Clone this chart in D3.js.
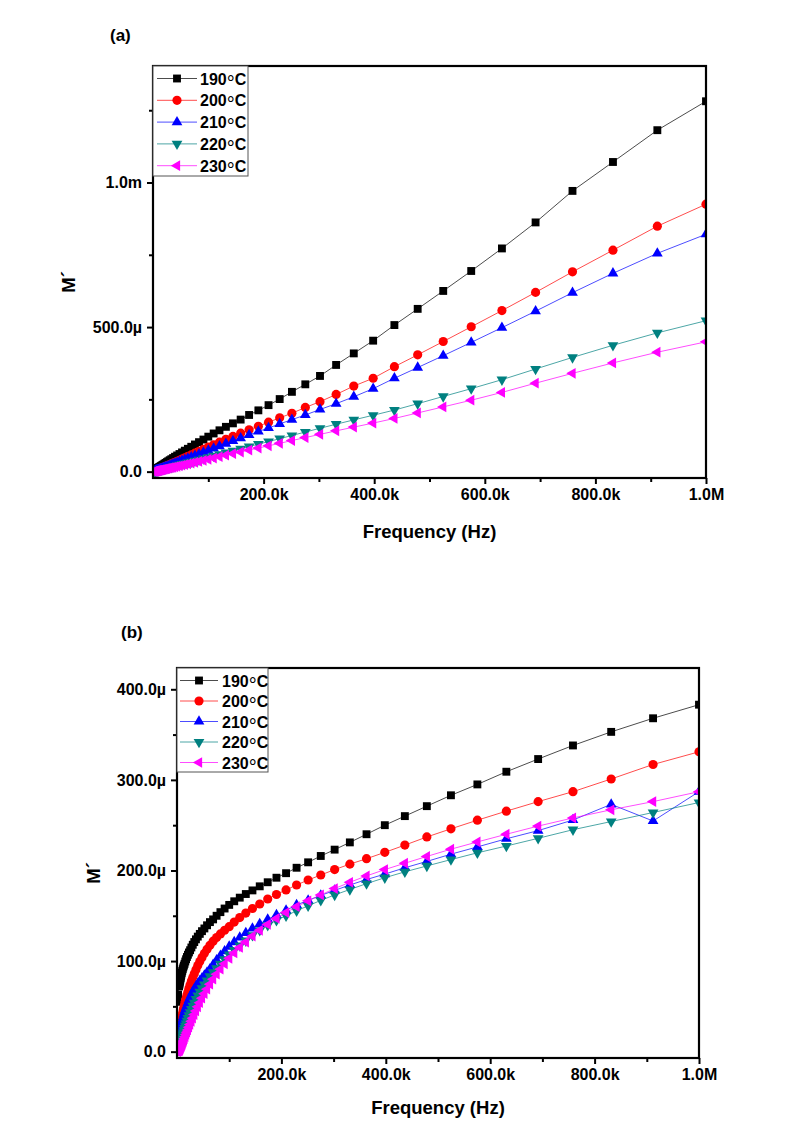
<!DOCTYPE html>
<html><head><meta charset="utf-8">
<script src="https://cdn.jsdelivr.net/npm/d3@7/dist/d3.min.js"></script>
<style>
body{margin:0;background:#fff;}
svg text{font-family:"Liberation Sans",Arial,sans-serif;font-weight:bold;fill:#000;}
</style></head><body>
<svg id="chart" width="806" height="1137"></svg>
<script>
// Frequency points (Hz)
const freq = [1000,2000,3981,4365,4786,5248,5754,6310,6918,7586,8318,9120,
10000,10965,12023,13183,14454,15849,17378,19055,20893,22909,25119,27542,30200,33113,36308,39811,43652,47863,52481,57544,63096,69183,75858,83176,91201,
100000,109648,120226,131826,144544,158489,173780,190546,208930,229087,251189,275423,301995,331131,363078,398107,436516,478630,524807,575440,630957,691831,758578,831764,912011,
1000000];

const seriesNames = ["190°C","200°C","210°C","220°C","230°C"];
const seriesColors = ["#000000","#ff0000","#0000ff","#008080","#ff00ff"];
const seriesSymbols = ["square","circle","up","down","left"];

// Panel (a): M' values in micro units
const a190 = [1.5,2.9,5.6,6.1,6.7,7.3,8.0,8.7,9.5,10.4,11.3,12.4,
13.5,14.7,16.1,17.6,19.2,21,23,25,27.5,30,33,36,39.5,43,47,51.5,56,61,66.5,72.5,79,86,94,102,111,
121,132,143,155,167,180,196,212,230,251,276,302,331,369,409,453,507,563,625,694,772,862,971,1071,1181,
1281];
const a200 = [0.8,1.5,2.9,3.2,3.6,3.9,4.3,4.7,5.2,5.7,6.3,6.9,
7.6,8.3,9.2,10.1,11.1,12.2,13.5,14.9,16.4,18.1,20,22,24.3,26.8,29.5,32.5,36,39.5,43.5,48,53,58,64,70.5,77.5,
85,93,102,112,122,133,145,157,171,186,202,222,242,267,296,323,363,404,450,501,557,620,691,766,849,
925];
const a210 = [0.55,1.1,2.2,2.45,2.7,3.0,3.35,3.7,4.1,4.5,5.0,5.5,
6.1,6.8,7.5,8.3,9.2,10.2,11.3,12.5,13.8,15.3,16.9,18.7,20.7,22.9,25.3,27.9,30.8,34,37.5,41.3,45.5,50,55,60.5,66.5,
73,80,88,97,106,116,127,139,151,165,180,196,215,235,259,287,323,360,401,447,498,555,619,686,755,
821];
const a220 = [0.45,0.9,1.8,1.95,2.15,2.35,2.6,2.85,3.1,3.45,3.8,4.2,
4.6,5.1,5.6,6.2,6.8,7.5,8.3,9.1,10,11,12.1,13.3,14.6,16,17.6,19.4,21.3,23.4,25.7,28.2,31,34,37.3,41,45,
49.5,54.5,60,66,72,79,87,95,104,114,125,137,150,164,179,195,213,235,260,287,318,355,395,437,480,
522];
const a230 = [0.4,0.8,1.5,1.7,1.85,2.0,2.25,2.45,2.7,3.0,3.3,3.6,
4.0,4.4,4.8,5.3,5.8,6.4,7.1,7.8,8.6,9.5,10.4,11.4,12.6,13.8,15.1,16.7,18.3,20.1,22.1,24.3,26.7,29.2,32.1,35.3,38.7,
42.6,46.9,51.6,56.8,61.9,67.9,74.8,81.7,89.4,98,107.5,117.8,129,141,154,168,184,203,224,247,274,306,340,376,413,
449];

// Panel (b): M' values in micro units
const b190 = [55,63,72,73.5,75,76.5,78,79.5,81,83,85,87,
89,91,93,95,97,99.5,102,104.5,107,109.5,112,115,118,121,124,127,130,133,136,139.5,143,146,150,154,158,
162,166,170,174,178,182.5,187,192,197,203,209,216,223,231,240,250,260,271,283,295,309,323,338,353,368,
383];
const b200 = [13,17,20.5,22,23.5,25,26.5,28.5,30.5,32.5,35,37.5,
40,43,46,49,52,55.5,59,62.5,66,70,74,78,82,86,90.5,95,99.5,104,108.5,113,117.5,122,126,130,134,
138,143,148,153,158,163,168.5,173.5,178.5,184,189.5,195,201,207,213,220,228,237,246,255.5,265.5,276,287,301,317,
331];
const b210 = [7,11,16.5,17.5,19,20.5,22,23.5,25,27,29,31,
33.5,36,38.5,41,43.5,46,48.5,51,54,57,60,63,66,69,72,75,78,81,84,87.5,91,96,101,106,111,
116,121,126,131,136,141,146,151,156,162,167,172.5,178,184,190,196,203,210,218,226,235,244,255.7,273,254.6,
287];
const b220 = [0.5,2,4.9,5.7,6.6,7.6,8.6,9.8,11,12.5,14,15.5,
17,19,21,23.5,26,28.5,31,34,37,40,43.5,47,50.5,54,58,62,66,70,74,78.5,83,87.5,92,97,102,
107,112,117,122.5,128.5,134,139.5,145,150,155.5,161,167,173,179,185.5,192,198.5,205,212,219.5,227,235.5,245,254,264,
275];
const b230 = [0,0.2,0.9,1.2,1.6,2,2.5,3.1,3.8,4.6,5.5,6.6,
7.8,9.2,10.8,12.5,14.5,16.5,19,21.5,24,27,30,33.5,37,41,45,49.5,54,59,64,69,74.5,80,85.5,91,97,
103,109,115,121,127.5,134,140.5,147,153.5,160,166.5,173,180,187,194,201,208,215.5,223.5,231.5,240,249,258,267,276,
287];

// Tick values and labels
const xTickValues = [200000,400000,600000,800000,1000000];
const xTickLabels = ["200.0k","400.0k","600.0k","800.0k","1.0M"];
const xMinorValues = [100000,300000,500000,700000,900000];
const aYTickValues = [0,500,1000];
const aYTickLabels = ["0.0","500.0µ","1.0m"];
const aYMinorValues = [250,750,1250];
const bYTickValues = [0,100,200,300,400];
const bYTickLabels = ["0.0","100.0µ","200.0µ","300.0µ","400.0µ"];
const bYMinorValues = [50,150,250,350];

const svg = d3.select("#chart");

function symbolPath(kind){
  if(kind==="square") return d3.symbol(d3.symbolSquare, 62)();
  if(kind==="circle") return d3.symbol(d3.symbolCircle, 66)();
  return d3.symbol(d3.symbolTriangle, 50)();
}
function symbolRot(kind){
  if(kind==="down") return 180;
  if(kind==="left") return -90;
  return 0;
}

function drawPanel(o){
  const g = svg.append("g");
  const x = d3.scaleLinear().domain([0,1000000]).range([o.left,o.right]);
  const y = d3.scaleLinear().domain(o.yDomain).range([o.bottom,o.top]);
  const clipId = "clip"+o.id;
  g.append("clipPath").attr("id",clipId).append("rect")
    .attr("x",o.left).attr("y",o.top).attr("width",o.right-o.left).attr("height",o.bottom-o.top);

  const plot = g.append("g").attr("clip-path",`url(#${clipId})`);
  o.series.forEach((vals,si)=>{
    const pts = freq.map((f,i)=>[f,vals[i]]);
    plot.append("path").datum(pts)
      .attr("fill","none").attr("stroke",seriesColors[si]).attr("stroke-width",1).attr("stroke-opacity",0.7)
      .attr("d",d3.line().x(d=>x(d[0])).y(d=>y(d[1])));
    const p = symbolPath(seriesSymbols[si]), r = symbolRot(seriesSymbols[si]);
    plot.selectAll(null).data(pts).enter().append("path")
      .attr("d",p).attr("fill",seriesColors[si])
      .attr("transform",d=>`translate(${x(d[0])},${y(d[1])}) rotate(${r})`);
  });

  // axes
  const xa = g.append("g").attr("transform",`translate(0,${o.bottom})`)
    .call(d3.axisBottom(x).tickValues(xTickValues).tickFormat((d,i)=>xTickLabels[i]).tickSize(6).tickPadding(5));
  const xm = g.append("g").attr("transform",`translate(0,${o.bottom})`)
    .call(d3.axisBottom(x).tickValues(xMinorValues).tickFormat("").tickSize(4));
  const ya = g.append("g").attr("transform",`translate(${o.left},0)`)
    .call(d3.axisLeft(y).tickValues(o.yTicks).tickFormat((d,i)=>o.yLabels[i]).tickSize(6).tickPadding(5));
  const ym = g.append("g").attr("transform",`translate(${o.left},0)`)
    .call(d3.axisLeft(y).tickValues(o.yMinor).tickFormat("").tickSize(4));
  [xa,xm,ya,ym].forEach(a=>{
    a.select(".domain").remove();
    a.selectAll(".tick line").attr("stroke","#000").attr("stroke-width",2);
    a.selectAll("text").attr("font-size",16).attr("font-family",null).attr("fill","#000");
  });

  // frame
  g.append("rect").attr("x",o.left).attr("y",o.top).attr("width",o.right-o.left).attr("height",o.bottom-o.top)
    .attr("fill","none").attr("stroke","#000").attr("stroke-width",2.2);

  // legend
  const L = o.legend;
  g.append("rect").attr("x",L.x).attr("y",L.y).attr("width",L.w).attr("height",L.h)
    .attr("fill","#fff").attr("stroke","#555").attr("stroke-width",1);
  seriesNames.forEach((name,si)=>{
    const yy = L.row0 + si*L.step;
    g.append("line").attr("x1",L.lx1).attr("x2",L.lx2).attr("y1",yy).attr("y2",yy)
      .attr("stroke",seriesColors[si]).attr("stroke-width",1).attr("stroke-opacity",0.7);
    g.append("path").attr("d",symbolPath(seriesSymbols[si])).attr("fill",seriesColors[si])
      .attr("transform",`translate(${(L.lx1+L.lx2)/2},${yy}) rotate(${symbolRot(seriesSymbols[si])})`);
    const t = g.append("text").attr("x",L.tx).attr("y",yy+6).attr("font-size",16);
    const parts = name.split("°");
    t.append("tspan").text(parts[0]);
    t.append("tspan").text("°").attr("font-weight","normal").attr("font-size",20).attr("dy",5);
    t.append("tspan").text(parts[1]).attr("dy",-5);
  });

  // titles
  g.append("text").attr("x",(o.left+o.right)/2).attr("y",o.xTitleY).attr("text-anchor","middle")
    .attr("font-size",18.5).text("Frequency (Hz)");
  g.append("text").attr("transform",`translate(${o.yTitleX},${(o.top+o.bottom)/2+10}) rotate(-90)`)
    .attr("text-anchor","middle").attr("font-size",18.5).text("M´");
  g.append("text").attr("x",o.tagX).attr("y",o.tagY).attr("font-size",17).text(o.tag);
}

drawPanel({id:"a", left:153, right:706, top:66, bottom:478, yDomain:[-22,1403],
  yTicks:aYTickValues, yLabels:aYTickLabels, yMinor:aYMinorValues,
  series:[a190,a200,a210,a220,a230],
  legend:{x:153,y:66,w:95,h:110,row0:78.5,step:21.8,lx1:157,lx2:197,tx:200},
  xTitleY:538, yTitleX:75, tag:"(a)", tagX:110, tagY:41});

drawPanel({id:"b", left:177, right:699, top:668, bottom:1058, yDomain:[-7,423.5],
  yTicks:bYTickValues, yLabels:bYTickLabels, yMinor:bYMinorValues,
  series:[b190,b200,b210,b220,b230],
  legend:{x:177,y:668,w:91,h:104,row0:680.5,step:20.5,lx1:180,lx2:218,tx:222},
  xTitleY:1114, yTitleX:100, tag:"(b)", tagX:121, tagY:638});
</script>
</body></html>
